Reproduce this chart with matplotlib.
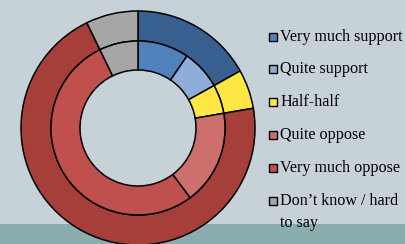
import matplotlib
matplotlib.use('Agg')
import matplotlib.pyplot as plt
from matplotlib.patches import Rectangle

# data (percent)
inner_labels = ['Very much support', 'Quite support', 'Half-half',
                'Quite oppose', 'Very much oppose', 'Don’t know / hard\nto say']
inner_values = [9.5, 7.4, 5.4, 17.5, 53.0, 7.2]
inner_colors = ['#4F81BD', '#8EADD8', '#FFE843', '#CD706D', '#C0504D', '#A6A6A6']

outer_labels = ['Support', 'Half-half', 'Oppose', 'Don’t know']
outer_values = [16.9, 5.4, 70.5, 7.2]
outer_colors = ['#376091', '#FFE843', '#A63E3A', '#A6A6A6']

W, H = 406, 244
bg = '#C6D2D8'

fig = plt.figure(figsize=(W / 100, H / 100), dpi=100, facecolor=bg)
ax = fig.add_axes([0, 0, 1, 1])
ax.set_facecolor(bg)

# bottom band
ax.add_patch(Rectangle((0, 0), W, 20, facecolor='#8AADAD', edgecolor='none', zorder=0))

cx, cy = 138, 116
edge = dict(edgecolor='black', linewidth=1.1)
ax.pie(outer_values, radius=117, center=(cx, cy), startangle=90, counterclock=False,
       colors=outer_colors, wedgeprops=dict(width=30, **edge))
ax.pie(inner_values, radius=87, center=(cx, cy), startangle=90, counterclock=False,
       colors=inner_colors, wedgeprops=dict(width=29, **edge))

ax.set_xlim(0, W)
ax.set_ylim(0, H)
ax.set_aspect('equal')
ax.axis('off')

# legend
font = dict(family=['Liberation Serif', 'DejaVu Serif'], fontsize=11.6)
row_y = [36.7, 69.3, 101.7, 135, 167.7, 200.7]
for lab, col, y in zip(inner_labels, inner_colors, row_y):
    yy = H - y
    ax.add_patch(Rectangle((269, yy - 4), 8, 8, facecolor=col, edgecolor='black',
                           linewidth=1.0, zorder=3))
    if '\n' in lab:
        ax.text(280.5, yy + 8, lab, va='top', ha='left', linespacing=1.5,
                zorder=3, **font)
    else:
        ax.text(280.5, yy, lab, va='center', ha='left', zorder=3, **font)

fig.savefig('out.png', dpi=100, facecolor=bg)
